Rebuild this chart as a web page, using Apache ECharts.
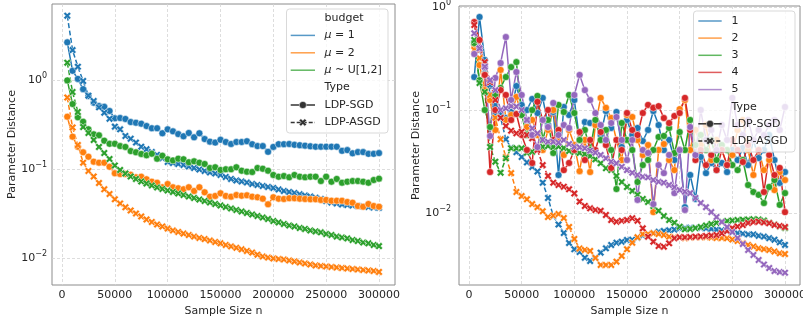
<!DOCTYPE html>
<html>
<head>
<meta charset="utf-8">
<script src="https://cdn.jsdelivr.net/npm/echarts@6/dist/echarts.min.js"></script>
<style>
html, body { margin: 0; padding: 0; background: #fff; }
#chart { width: 803px; height: 322px; }
</style>
</head>
<body>
<div id="chart"></div>
<script>
// sample sizes (x) shared by both panels
var sampleSizes = [5000, 10000, 15000, 20000, 25000, 30000, 35000, 40000, 45000, 50000,
    55000, 60000, 65000, 70000, 75000, 80000, 85000, 90000, 95000, 100000,
    105000, 110000, 115000, 120000, 125000, 130000, 135000, 140000, 145000, 150000,
    155000, 160000, 165000, 170000, 175000, 180000, 185000, 190000, 195000, 200000,
    205000, 210000, 215000, 220000, 225000, 230000, 235000, 240000, 245000, 250000,
    255000, 260000, 265000, 270000, 275000, 280000, 285000, 290000, 295000, 300000];
var xTicks = [0, 50000, 100000, 150000, 200000, 250000, 300000];

// left panel: budget
var mu1Sgd = [2.65, 1.27, 1.03, 0.79, 0.66, 0.556, 0.51, 0.50, 0.449, 0.371, 0.374, 0.365, 0.337, 0.331, 0.323, 0.304, 0.287, 0.287, 0.252, 0.279,
    0.265, 0.247, 0.233, 0.254, 0.227, 0.252, 0.217, 0.203, 0.198, 0.213, 0.201, 0.191, 0.201, 0.201, 0.205, 0.19, 0.181, 0.181, 0.156, 0.177,
    0.19, 0.19, 0.191, 0.187, 0.185, 0.183, 0.18, 0.178, 0.178, 0.178, 0.178, 0.178, 0.16, 0.163, 0.15, 0.155, 0.155, 0.148, 0.148, 0.151];
var mu1Asgd = [5.28, 2.17, 1.41, 0.975, 0.667, 0.581, 0.493, 0.429, 0.367, 0.299, 0.279, 0.235, 0.219, 0.198, 0.178, 0.167, 0.155, 0.144, 0.132, 0.12,
    0.1167, 0.1138, 0.111, 0.1067, 0.1026, 0.0987, 0.095, 0.0914, 0.089, 0.0857, 0.0813, 0.0773, 0.0743, 0.0724, 0.0705, 0.0678, 0.0661, 0.0644, 0.0628, 0.0612,
    0.0589, 0.0566, 0.0552, 0.0538, 0.052, 0.0504, 0.0491, 0.0476, 0.046, 0.0437, 0.042, 0.041, 0.0399, 0.0394, 0.0389, 0.0384, 0.0379, 0.0374, 0.0369, 0.0367];
var mu2Sgd = [0.387, 0.231, 0.178, 0.154, 0.1375, 0.1208, 0.1177, 0.1177, 0.106, 0.0895, 0.0879, 0.0879, 0.0863, 0.0807, 0.0819, 0.0766, 0.072, 0.0701, 0.0623, 0.0678,
    0.0623, 0.0607, 0.0591, 0.0623, 0.0566, 0.0623, 0.0547, 0.0489, 0.0498, 0.0533, 0.0498, 0.0489, 0.051, 0.0501, 0.0506, 0.0489, 0.0481, 0.0464, 0.0401, 0.0481,
    0.0464, 0.046, 0.0469, 0.0469, 0.0464, 0.046, 0.0457, 0.0457, 0.0449, 0.0449, 0.044, 0.044, 0.044, 0.0426, 0.0418, 0.0384, 0.0377, 0.0404, 0.0384, 0.0377];
var mu2Asgd = [0.636, 0.293, 0.186, 0.1177, 0.095, 0.0824, 0.0696, 0.0591, 0.0524, 0.0457, 0.041, 0.0371, 0.0342, 0.0316, 0.0293, 0.0271, 0.0254, 0.0238, 0.0226, 0.0214,
    0.0204, 0.0196, 0.0188, 0.0181, 0.0174, 0.0168, 0.0163, 0.0157, 0.0151, 0.0146, 0.014, 0.0135, 0.013, 0.0125, 0.012, 0.0115, 0.0109, 0.0104, 0.0101, 0.00987,
    0.00975, 0.00962, 0.00938, 0.00914, 0.0089, 0.00868, 0.00845, 0.00824, 0.00813, 0.00802, 0.00792, 0.00782, 0.00772, 0.00762, 0.00752, 0.00743, 0.00733, 0.00724, 0.00715, 0.00697];
var muUSgd = [0.99, 0.537, 0.381, 0.34, 0.279, 0.245, 0.239, 0.208, 0.192, 0.192, 0.181, 0.177, 0.159, 0.154, 0.1475, 0.1425, 0.1486, 0.1305, 0.141, 0.1285,
    0.125, 0.1305, 0.1285, 0.119, 0.122, 0.1177, 0.1138, 0.1026, 0.1045, 0.0975, 0.0993, 0.0993, 0.1045, 0.0957, 0.0933, 0.0925, 0.1026, 0.1007, 0.0957, 0.0857,
    0.0819, 0.0834, 0.0807, 0.0857, 0.0819, 0.0807, 0.0819, 0.0819, 0.0733, 0.0819, 0.072, 0.0773, 0.0701, 0.072, 0.0733, 0.0733, 0.072, 0.0701, 0.0752, 0.0778];
var muUAsgd = [1.565, 0.733, 0.437, 0.296, 0.254, 0.212, 0.177, 0.151, 0.1295, 0.1095, 0.0975, 0.089, 0.0824, 0.0773, 0.0724, 0.0688, 0.0653, 0.062, 0.0596, 0.0573,
    0.0552, 0.0531, 0.051, 0.0491, 0.0472, 0.0454, 0.0437, 0.042, 0.0404, 0.0389, 0.0374, 0.036, 0.0346, 0.0333, 0.032, 0.0308, 0.0296, 0.0285, 0.0274, 0.026,
    0.0251, 0.0241, 0.0232, 0.0226, 0.0217, 0.0212, 0.0204, 0.0199, 0.0194, 0.0186, 0.0181, 0.0174, 0.017, 0.0166, 0.0159, 0.0155, 0.0149, 0.0146, 0.014, 0.0136];

// right panel: runs 1..5
var run1Sgd = [0.209, 0.80, 0.306, 0.14, 0.0894, 0.0894, 0.0836, 0.0957, 0.171, 0.112, 0.1, 0.128, 0.0935, 0.131, 0.0715, 0.0957, 0.0234, 0.107, 0.0894, 0.125,
    0.0512, 0.0764, 0.0748, 0.0764, 0.0572, 0.0977, 0.0669, 0.0957, 0.0437, 0.08, 0.0572, 0.0669, 0.05, 0.064, 0.0977, 0.0715, 0.0409, 0.0512, 0.0327, 0.0409,
    0.0114, 0.0234, 0.0137, 0.035, 0.0244, 0.0306, 0.0261, 0.0306, 0.025, 0.0409, 0.0327, 0.0428, 0.0292, 0.0512, 0.0342, 0.0409, 0.0572, 0.0327, 0.0196, 0.025];
var run1Asgd = [0.45, 0.383, 0.245, 0.175, 0.112, 0.084, 0.052, 0.043, 0.039, 0.035, 0.031, 0.028, 0.0253, 0.0197, 0.014, 0.00935, 0.00773, 0.0064, 0.00512, 0.00445,
    0.00418, 0.00368, 0.00342, 0.00368, 0.00412, 0.00454, 0.00489, 0.00515, 0.00527, 0.00547, 0.0055, 0.00575, 0.00605, 0.00621, 0.0064, 0.00657, 0.00668, 0.00679, 0.0069, 0.0071,
    0.00715, 0.0072, 0.0072, 0.00715, 0.0071, 0.007, 0.0069, 0.0068, 0.0067, 0.0065, 0.0064, 0.0063, 0.0062, 0.0062, 0.006, 0.0059, 0.0057, 0.0055, 0.0052, 0.0049];
var run2Sgd = [0.428, 0.273, 0.156, 0.125, 0.064, 0.245, 0.08, 0.0894, 0.134, 0.0894, 0.0684, 0.08, 0.0572, 0.0409, 0.064, 0.1, 0.0512, 0.0366, 0.064, 0.0457,
    0.0255, 0.0512, 0.025, 0.0715, 0.131, 0.105, 0.0836, 0.0512, 0.0327, 0.0894, 0.0855, 0.0512, 0.0366, 0.0457, 0.0102, 0.0409, 0.0467, 0.0327, 0.0261, 0.102,
    0.125, 0.0409, 0.064, 0.0457, 0.0715, 0.0327, 0.0512, 0.0409, 0.0292, 0.0366, 0.064, 0.08, 0.0409, 0.0234, 0.0409, 0.0261, 0.0327, 0.0167, 0.025, 0.0209];
var run2Asgd = [0.383, 0.32, 0.219, 0.14, 0.084, 0.052, 0.035, 0.0244, 0.016, 0.0146, 0.0136, 0.0122, 0.0114, 0.0104, 0.00914, 0.00946, 0.00977, 0.00893, 0.00732, 0.0056,
    0.00452, 0.00438, 0.00428, 0.00366, 0.00313, 0.00313, 0.00313, 0.00337, 0.00383, 0.00445, 0.00515, 0.00581, 0.00625, 0.00625, 0.00635, 0.00625, 0.00611, 0.00589, 0.00581, 0.00581,
    0.00568, 0.00578, 0.00581, 0.00581, 0.00581, 0.00578, 0.00572, 0.00572, 0.00568, 0.00553, 0.00535, 0.0051, 0.00489, 0.00473, 0.00454, 0.00446, 0.00438, 0.00423, 0.00406, 0.004];
var run3Sgd = [0.447, 0.195, 0.1, 0.0684, 0.14, 0.164, 0.209, 0.261, 0.292, 0.0894, 0.0572, 0.1, 0.137, 0.0512, 0.08, 0.0383, 0.112, 0.0957, 0.14, 0.0935,
    0.0512, 0.064, 0.0409, 0.08, 0.0512, 0.064, 0.0409, 0.0171, 0.0748, 0.0512, 0.0409, 0.02, 0.0292, 0.0327, 0.0409, 0.0547, 0.056, 0.0669, 0.0383, 0.0611,
    0.0409, 0.08, 0.0457, 0.0572, 0.0409, 0.0512, 0.0327, 0.0457, 0.0409, 0.0292, 0.0261, 0.0327, 0.0187, 0.016, 0.015, 0.0125, 0.0179, 0.0209, 0.012, 0.0156];
var run3Asgd = [0.478, 0.183, 0.15, 0.0437, 0.0315, 0.0246, 0.034, 0.0425, 0.0425, 0.0425, 0.0385, 0.0394, 0.0415, 0.044, 0.0447, 0.0437, 0.0442, 0.0428, 0.04, 0.0391,
    0.0383, 0.0374, 0.0357, 0.0332, 0.0304, 0.0272, 0.0261, 0.0229, 0.02, 0.0179, 0.0164, 0.015, 0.0137, 0.0128, 0.0117, 0.0105, 0.00935, 0.00855, 0.00805, 0.00736,
    0.00695, 0.007, 0.00715, 0.00731, 0.00757, 0.00782, 0.00805, 0.00824, 0.00836, 0.00845, 0.00855, 0.0086, 0.00865, 0.00869, 0.00865, 0.00845, 0.00805, 0.00773, 0.0074, 0.00715];
var run4Sgd = [0.715, 0.478, 0.219, 0.025, 0.1, 0.156, 0.14, 0.08, 0.0914, 0.0572, 0.0409, 0.0306, 0.12, 0.08, 0.1, 0.0512, 0.064, 0.0261, 0.0306, 0.0409,
    0.0611, 0.0327, 0.0512, 0.0409, 0.0611, 0.0457, 0.0274, 0.0512, 0.0409, 0.0935, 0.064, 0.0572, 0.0935, 0.112, 0.105, 0.109, 0.0836, 0.0748, 0.0875, 0.0935,
    0.131, 0.064, 0.0327, 0.0409, 0.0292, 0.0366, 0.0261, 0.0409, 0.0292, 0.0512, 0.0409, 0.0313, 0.0457, 0.0327, 0.0409, 0.016, 0.0366, 0.0234, 0.0274, 0.0102];
var run4Asgd = [0.669, 0.383, 0.292, 0.187, 0.125, 0.084, 0.07, 0.063, 0.0594, 0.0615, 0.0572, 0.0531, 0.0409, 0.0292, 0.0229, 0.0197, 0.0187, 0.018, 0.017, 0.0155,
    0.0129, 0.0117, 0.0111, 0.0107, 0.0105, 0.00957, 0.00855, 0.00824, 0.00842, 0.00855, 0.00889, 0.00842, 0.0071, 0.00589, 0.00527, 0.00478, 0.00471, 0.00508, 0.00568, 0.00581,
    0.00581, 0.00584, 0.00589, 0.00592, 0.00598, 0.00605, 0.00611, 0.00635, 0.00668, 0.00715, 0.0074, 0.00764, 0.008, 0.00817, 0.00824, 0.0081, 0.00796, 0.00764, 0.00748, 0.00731];
var run5Sgd = [0.35, 0.40, 0.261, 0.056, 0.205, 0.286, 0.511, 0.125, 0.234, 0.14, 0.08, 0.0572, 0.0437, 0.08, 0.0684, 0.117, 0.0572, 0.0715, 0.0669, 0.14,
    0.219, 0.156, 0.125, 0.0935, 0.0715, 0.0512, 0.0748, 0.0855, 0.0512, 0.0327, 0.0512, 0.0134, 0.0409, 0.0383, 0.0122, 0.0292, 0.0244, 0.0366, 0.0156, 0.0409,
    0.0107, 0.0684, 0.0366, 0.1, 0.0512, 0.064, 0.0409, 0.0715, 0.0512, 0.131, 0.0715, 0.0572, 0.08, 0.0512, 0.064, 0.0572, 0.0715, 0.08, 0.064, 0.107];
var run5Asgd = [0.556, 0.397, 0.263, 0.195, 0.156, 0.1, 0.104, 0.109, 0.108, 0.1, 0.08, 0.0664, 0.0594, 0.0512, 0.0492, 0.0492, 0.0482, 0.0512, 0.0468, 0.044,
    0.0434, 0.0425, 0.0403, 0.0385, 0.0366, 0.034, 0.0315, 0.0304, 0.0281, 0.0261, 0.0246, 0.0234, 0.0225, 0.0222, 0.0209, 0.0201, 0.0197, 0.0187, 0.0178, 0.0167,
    0.0161, 0.0156, 0.014, 0.0125, 0.0114, 0.0102, 0.00914, 0.00818, 0.00731, 0.00654, 0.00572, 0.005, 0.00438, 0.00391, 0.0035, 0.00316, 0.00292, 0.00273, 0.00267, 0.00263];

var budgetLabels = ['{i|\u03bc} = 1', '{i|\u03bc} = 2', '{i|\u03bc} ~ U[1,2]'];
var runLabels = ['1', '2', '3', '4', '5'];
var typeLabels = ['LDP-SGD', 'LDP-ASGD'];

var palette = ['#1f77b4', '#ff7f0e', '#2ca02c', '#d62728', '#9467bd'];
var textColor = '#262626';
var fontFamily = 'DejaVu Sans';
// filled "X" marker like seaborn's
var xMarker = 'path://M0 2.4L2.4 0L5 2.6L7.6 0L10 2.4L7.4 5L10 7.6L7.6 10L5 7.4L2.4 10L0 7.6L2.6 5Z';
var xMarkerPts = [[0, 2.4], [2.4, 0], [5, 2.6], [7.6, 0], [10, 2.4], [7.4, 5], [10, 7.6], [7.6, 10], [5, 7.4], [2.4, 10], [0, 7.6], [2.6, 5]];

function lineSeries(panel, values, color, asgd) {
    return {
        type: 'line',
        xAxisIndex: panel,
        yAxisIndex: panel,
        data: sampleSizes.map(function (x, i) { return [x, values[i]]; }),
        symbol: asgd ? xMarker : 'circle',
        symbolSize: asgd ? 7.5 : 7,
        showAllSymbol: true,
        lineStyle: { color: color, width: 1.5, type: asgd ? [5, 2.5] : 'solid' },
        itemStyle: { color: color, borderColor: '#fff', borderWidth: 0.5 },
        silent: true,
        animation: false
    };
}

function logLabel(v) {
    var e = Math.round(Math.log10(v));
    if (Math.abs(Math.log10(v) - e) > 0.01) return '';
    return '{b|10}{s|' + (e < 0 ? '\u2212' + (-e) : e) + '}';
}

function xAxisFor(panel, min, max) {
    return {
        type: 'value', gridIndex: panel, min: min, max: max,
        name: 'Sample Size n', nameLocation: 'middle', nameGap: 15,
        nameTextStyle: { color: textColor, fontSize: 11, fontFamily: fontFamily },
        axisLine: { show: false },
        axisTick: { show: false },
        axisLabel: {
            color: textColor, fontSize: 11, fontFamily: fontFamily, margin: 5,
            formatter: function (v) { return xTicks.indexOf(v) >= 0 ? String(v) : ''; }
        },
        splitLine: { show: true, showMinLine: false, showMaxLine: false,
            lineStyle: { color: '#d4d4d4', width: 0.8, type: [3, 2] } }
    };
}

function yAxisFor(panel, min, max, gap, margin) {
    return {
        type: 'log', logBase: 10, gridIndex: panel, min: min, max: max,
        name: 'Parameter Distance', nameLocation: 'middle', nameGap: gap,
        nameTextStyle: { color: textColor, fontSize: 11, fontFamily: fontFamily },
        axisLine: { show: false },
        axisTick: { show: false },
        axisLabel: {
            margin: margin, formatter: logLabel,
            rich: {
                b: { color: textColor, fontSize: 11, fontFamily: fontFamily },
                s: { color: textColor, fontSize: 8, fontFamily: fontFamily, padding: [0, 0, 9, 0] }
            }
        },
        splitLine: { show: true, showMinLine: false, showMaxLine: false,
            lineStyle: { color: '#d4d4d4', width: 0.8, type: [3, 2] } }
    };
}

// legend drawn as graphic elements (matplotlib style with section titles)
function legendBox(x, y, w, h) {
    return { type: 'rect', z: 100, shape: { x: x, y: y, width: w, height: h, r: 3 },
        style: { fill: 'rgba(255,255,255,0.8)', stroke: '#d9d9d9', lineWidth: 1 } };
}
function legendText(x, y, text) {
    return { type: 'text', z: 101, x: x, y: y,
        style: { text: text, fill: textColor, font: '11px "DejaVu Sans"',
            textVerticalAlign: 'middle', verticalAlign: 'middle',
            rich: { i: { fontStyle: 'italic', fontSize: 11, fontFamily: fontFamily, fill: textColor } } } };
}
function legendHandle(x1, x2, y, color, dashed, opacity) {
    return { type: 'line', z: 101, shape: { x1: x1, y1: y, x2: x2, y2: y },
        style: { stroke: color, lineWidth: 1.5, lineDash: dashed ? [4, 2] : null, opacity: opacity } };
}
function legendDot(cx, cy) {
    return { type: 'circle', z: 102, shape: { cx: cx, cy: cy, r: 3.6 },
        style: { fill: '#333', stroke: '#fff', lineWidth: 0.5 } };
}
function legendX(cx, cy) {
    return { type: 'polygon', z: 102,
        shape: { points: xMarkerPts.map(function (p) { return [cx - 3.75 + p[0] * 0.75, cy - 3.75 + p[1] * 0.75]; }) },
        style: { fill: '#333', stroke: '#fff', lineWidth: 0.5 } };
}

var graphics = [];
// left legend
(function () {
    var x0 = 290.7, x1 = 315, tx = 324.5, rows = [18, 35.4, 52.8, 70.2, 87.6, 105, 122.4];
    graphics.push(legendBox(286.5, 9, 101.5, 124));
    graphics.push(legendText(tx, rows[0], 'budget'));
    budgetLabels.forEach(function (lab, i) {
        graphics.push(legendHandle(x0, x1, rows[i + 1], palette[i], false, 0.75));
        graphics.push(legendText(tx, rows[i + 1], lab));
    });
    graphics.push(legendText(tx, rows[4], 'Type'));
    graphics.push(legendHandle(x0, x1, rows[5], '#333', false, 1));
    graphics.push(legendDot((x0 + x1) / 2, rows[5]));
    graphics.push(legendText(tx, rows[5], typeLabels[0]));
    graphics.push(legendHandle(x0, x1, rows[6], '#333', true, 1));
    graphics.push(legendX((x0 + x1) / 2, rows[6]));
    graphics.push(legendText(tx, rows[6], typeLabels[1]));
})();
// right legend
(function () {
    var x0 = 698.3, x1 = 721.7, tx = 731.5, rows = [21, 38.1, 55.3, 72.4, 89.6, 106.7, 123.8, 141];
    graphics.push(legendBox(693.5, 11, 101.5, 141));
    runLabels.forEach(function (lab, i) {
        graphics.push(legendHandle(x0, x1, rows[i], palette[i], false, 0.75));
        graphics.push(legendText(tx, rows[i], lab));
    });
    graphics.push(legendText(tx, rows[5], 'Type'));
    graphics.push(legendHandle(x0, x1, rows[6], '#333', false, 1));
    graphics.push(legendDot((x0 + x1) / 2, rows[6]));
    graphics.push(legendText(tx, rows[6], typeLabels[0]));
    graphics.push(legendHandle(x0, x1, rows[7], '#333', true, 1));
    graphics.push(legendX((x0 + x1) / 2, rows[7]));
    graphics.push(legendText(tx, rows[7], typeLabels[1]));
})();

var leftPairs = [[mu1Sgd, mu1Asgd], [mu2Sgd, mu2Asgd], [muUSgd, muUAsgd]];
var rightPairs = [[run1Sgd, run1Asgd], [run2Sgd, run2Asgd], [run3Sgd, run3Asgd], [run4Sgd, run4Asgd], [run5Sgd, run5Asgd]];
var series = [];
leftPairs.forEach(function (p, i) {
    series.push(lineSeries(0, p[0], palette[i], false));
    series.push(lineSeries(0, p[1], palette[i], true));
});
rightPairs.forEach(function (p, i) {
    series.push(lineSeries(1, p[0], palette[i], false));
    series.push(lineSeries(1, p[1], palette[i], true));
});

var chart = echarts.init(document.getElementById('chart'), null, { renderer: 'canvas' });
chart.setOption({
    backgroundColor: '#fff',
    animation: false,
    grid: [
        { left: 52, top: 4, width: 343, height: 281, show: true, borderColor: '#8c8c8c', borderWidth: 1,
          backgroundColor: 'transparent', containLabel: false, outerBoundsMode: 'none' },
        { left: 459, top: 6, width: 341, height: 279, show: true, borderColor: '#8c8c8c', borderWidth: 1,
          backgroundColor: 'transparent', containLabel: false, outerBoundsMode: 'none' }
    ],
    xAxis: [xAxisFor(0, -9464, 315142), xAxisFor(1, -9494, 314241)],
    yAxis: [yAxisFor(0, 0.00497, 7.15, 28, 5), yAxisFor(1, 0.0020, 1.023, 29, 8)],
    series: series,
    graphic: graphics
});
</script>
</body>
</html>
